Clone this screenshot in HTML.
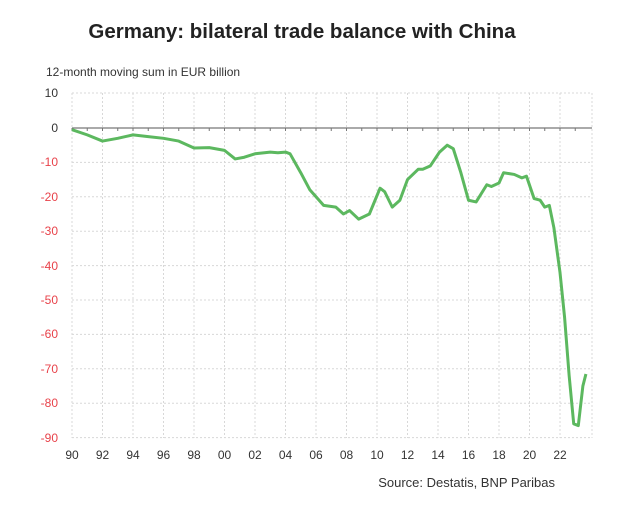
<!DOCTYPE html>
<html><head><meta charset="utf-8"><style>
body{margin:0;background:#fff;width:624px;height:511px;overflow:hidden;font-family:"Liberation Sans",sans-serif}
</style></head><body>
<svg width="624" height="511" xmlns="http://www.w3.org/2000/svg" font-family="Liberation Sans, sans-serif">
<text x="302" y="38" text-anchor="middle" font-size="20.5" font-weight="bold" fill="#222">Germany: bilateral trade balance with China</text>
<text x="46" y="76" font-size="12" fill="#333">12-month moving sum in EUR billion</text>
<g stroke="#d8d8d8" stroke-width="1" stroke-dasharray="2,2">
<line x1="72" y1="93" x2="592" y2="93"/><line x1="72" y1="162.4" x2="592" y2="162.4"/><line x1="72" y1="196.8" x2="592" y2="196.8"/><line x1="72" y1="231.2" x2="592" y2="231.2"/><line x1="72" y1="265.6" x2="592" y2="265.6"/><line x1="72" y1="300" x2="592" y2="300"/><line x1="72" y1="334.4" x2="592" y2="334.4"/><line x1="72" y1="368.8" x2="592" y2="368.8"/><line x1="72" y1="403.2" x2="592" y2="403.2"/><line x1="72" y1="437.6" x2="592" y2="437.6"/>
<line x1="72" y1="93" x2="72" y2="438"/><line x1="102.5" y1="93" x2="102.5" y2="438"/><line x1="133" y1="93" x2="133" y2="438"/><line x1="163.5" y1="93" x2="163.5" y2="438"/><line x1="194" y1="93" x2="194" y2="438"/><line x1="224.5" y1="93" x2="224.5" y2="438"/><line x1="255" y1="93" x2="255" y2="438"/><line x1="285.5" y1="93" x2="285.5" y2="438"/><line x1="316" y1="93" x2="316" y2="438"/><line x1="346.5" y1="93" x2="346.5" y2="438"/><line x1="377" y1="93" x2="377" y2="438"/><line x1="407.5" y1="93" x2="407.5" y2="438"/><line x1="438" y1="93" x2="438" y2="438"/><line x1="468.5" y1="93" x2="468.5" y2="438"/><line x1="499" y1="93" x2="499" y2="438"/><line x1="529.5" y1="93" x2="529.5" y2="438"/><line x1="560" y1="93" x2="560" y2="438"/><line x1="592" y1="93" x2="592" y2="438"/>
</g>
<line x1="72" y1="128" x2="592" y2="128" stroke="#777" stroke-width="1.2"/>
<g stroke="#777" stroke-width="1">
<path d="M72 128v3M87.25 128v3M102.5 128v3M117.75 128v3M133 128v3M148.25 128v3M163.5 128v3M178.75 128v3M194 128v3M209.25 128v3M224.5 128v3M239.75 128v3M255 128v3M270.25 128v3M285.5 128v3M300.75 128v3M316 128v3M331.25 128v3M346.5 128v3M361.75 128v3M377 128v3M392.25 128v3M407.5 128v3M422.75 128v3M438 128v3M453.25 128v3M468.5 128v3M483.75 128v3M499 128v3M514.25 128v3M529.5 128v3M544.75 128v3M560 128v3M575.25 128v3"/>
</g>
<g font-size="12" text-anchor="end">
<text x="58" y="97" fill="#333">10</text><text x="58" y="132" fill="#333">0</text>
<g fill="#e8424a"><text x="58" y="166">-10</text><text x="58" y="201">-20</text><text x="58" y="235">-30</text><text x="58" y="270">-40</text><text x="58" y="304">-50</text><text x="58" y="338">-60</text><text x="58" y="373">-70</text><text x="58" y="407">-80</text><text x="58" y="442">-90</text></g>
</g>
<g font-size="12" text-anchor="middle" fill="#333">
<text x="72" y="459">90</text><text x="102.5" y="459">92</text><text x="133" y="459">94</text><text x="163.5" y="459">96</text><text x="194" y="459">98</text><text x="224.5" y="459">00</text><text x="255" y="459">02</text><text x="285.5" y="459">04</text><text x="316" y="459">06</text><text x="346.5" y="459">08</text><text x="377" y="459">10</text><text x="407.5" y="459">12</text><text x="438" y="459">14</text><text x="468.5" y="459">16</text><text x="499" y="459">18</text><text x="529.5" y="459">20</text><text x="560" y="459">22</text>
</g>
<text x="555" y="487" text-anchor="end" font-size="13" fill="#333">Source: Destatis, BNP Paribas</text>
<g transform="translate(72,128) scale(15.25,-3.44)">
<polyline fill="none" stroke="#5cb85f" stroke-width="3" stroke-linejoin="round" vector-effect="non-scaling-stroke" points="0,-0.5 1,-2 2,-3.8 3,-3 4,-2 5,-2.5 6,-3 7,-3.8 8,-5.8 9,-5.7 10,-6.5 10.7,-9 11.3,-8.5 12,-7.5 13,-7 13.5,-7.2 14,-7 14.3,-7.5 15,-13 15.6,-18 16,-20 16.5,-22.5 17.3,-23 17.8,-25 18.2,-24 18.8,-26.5 19.5,-25 20.2,-17.5 20.5,-18.5 21,-23 21.5,-21 22,-15 22.7,-12 23,-12 23.5,-11 24.1,-7 24.6,-5 25,-6 25.5,-13 26,-21 26.5,-21.5 27.2,-16.5 27.5,-17 28,-16 28.3,-13 29,-13.5 29.5,-14.5 29.8,-14 30.3,-20.5 30.7,-21 31,-23 31.3,-22.5 31.6,-29 32,-42 32.3,-55 32.6,-72 32.9,-86 33.2,-86.5 33.5,-75 33.7,-71.5"/>
</g>
</svg>
</body></html>
